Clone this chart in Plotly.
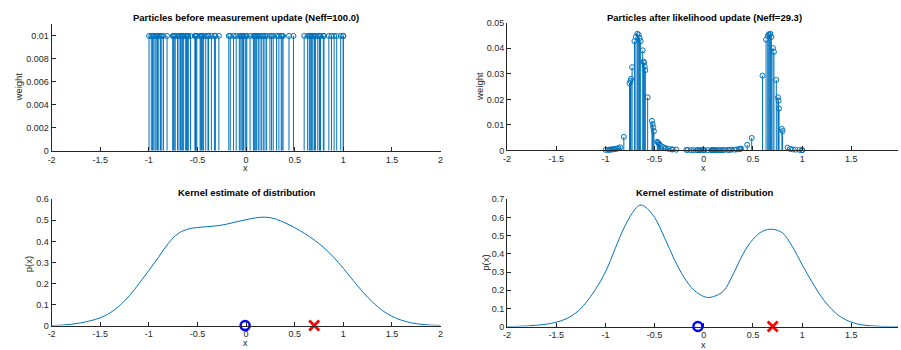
import plotly.graph_objects as go

# Particle positions (shared by both stem plots)
particle_x = [
    -0.998, -0.975, -0.962, -0.949, -0.936, -0.925, -0.911, -0.898, -0.880, -0.867,
    -0.850, -0.813, -0.755, -0.745, -0.740, -0.729, -0.705, -0.690, -0.675, -0.662,
    -0.653, -0.642, -0.621, -0.612, -0.607, -0.600, -0.595, -0.571, -0.527, -0.520,
    -0.514, -0.507, -0.473, -0.466, -0.458, -0.450, -0.437, -0.415, -0.392, -0.386,
    -0.357, -0.326, -0.316, -0.280, -0.178, -0.163, -0.129, -0.102, -0.070, -0.061,
    -0.044, -0.035, -0.027, -0.010, 0.000, 0.007, 0.041, 0.075, 0.084, 0.092,
    0.101, 0.109, 0.126, 0.143, 0.160, 0.177, 0.194, 0.211, 0.245, 0.262,
    0.279, 0.313, 0.337, 0.361, 0.370, 0.380, 0.441, 0.487, 0.597, 0.633,
    0.650, 0.660, 0.670, 0.677, 0.687, 0.703, 0.713, 0.737, 0.754, 0.760,
    0.765, 0.794, 0.801, 0.851, 0.878, 0.905, 0.932, 0.973, 1.000, 0.999,
]

# Uniform prior weights
prior_w = [0.01] * len(particle_x)

# Weights after the likelihood update
posterior_w = [
    0.0002, 0.0002, 0.0003, 0.0003, 0.0004, 0.0004, 0.0005, 0.0006, 0.0007, 0.0009,
    0.0012, 0.0053, 0.0263, 0.0272, 0.0280, 0.0326, 0.0428, 0.0445, 0.0457, 0.0453,
    0.0440, 0.0428, 0.0392, 0.0348, 0.0344, 0.0329, 0.0314, 0.0208, 0.0116, 0.0103,
    0.0090, 0.0075, 0.0034, 0.0031, 0.0027, 0.0023, 0.0018, 0.0013, 0.0009, 0.0008,
    0.0006, 0.0004, 0.0004, 0.0003, 0.0002, 0.0002, 0.0001, 0.0001, 0.0001, 0.0001,
    0.0001, 0.0001, 0.0001, 0.0001, 0.0001, 0.0001, 0.0001, 0.0001, 0.0001, 0.0001,
    0.0001, 0.0001, 0.0001, 0.0001, 0.0001, 0.0001, 0.0001, 0.0002, 0.0002, 0.0002,
    0.0003, 0.0003, 0.0004, 0.0005, 0.0006, 0.0007, 0.0022, 0.0049, 0.0293, 0.0434,
    0.0449, 0.0455, 0.0453, 0.0457, 0.0444, 0.0401, 0.0386, 0.0276, 0.0208, 0.0195,
    0.0164, 0.0084, 0.0076, 0.0011, 0.0006, 0.0004, 0.0003, 0.0002, 0.0001, 0.0001,
]

# Kernel density estimates
kde_prior_x = [
    -2.0, -1.9, -1.8, -1.7, -1.6, -1.5, -1.4, -1.3, -1.2, -1.1, -1.0, -0.9, -0.8, -0.7,
    -0.6, -0.5, -0.4, -0.3, -0.2, -0.1, 0.0, 0.1, 0.2, 0.3, 0.4, 0.5, 0.6, 0.7, 0.8,
    0.9, 1.0, 1.1, 1.2, 1.3, 1.4, 1.5, 1.6, 1.7, 1.8, 1.9, 2.0,
]
kde_prior_p = [
    0.000, 0.002, 0.006, 0.013, 0.023, 0.037, 0.060, 0.095, 0.142, 0.200, 0.262, 0.325,
    0.390, 0.437, 0.458, 0.466, 0.470, 0.474, 0.482, 0.493, 0.503, 0.512, 0.515, 0.507,
    0.488, 0.465, 0.438, 0.407, 0.370, 0.325, 0.272, 0.215, 0.160, 0.112, 0.072, 0.044,
    0.025, 0.013, 0.006, 0.002, 0.001,
]
kde_post_x = [
    -2.0, -1.9, -1.8, -1.7, -1.6, -1.5, -1.4, -1.3, -1.2, -1.1, -1.0, -0.9, -0.8, -0.7,
    -0.65, -0.6, -0.5, -0.4, -0.3, -0.2, -0.1, 0.0, 0.05, 0.1, 0.2, 0.3, 0.4, 0.5, 0.6,
    0.7, 0.8, 0.9, 1.0, 1.1, 1.2, 1.3, 1.4, 1.5, 1.6, 1.7, 1.8, 1.9, 2.0,
]
kde_post_p = [
    0.000, 0.001, 0.003, 0.007, 0.013, 0.024, 0.042, 0.075, 0.130, 0.205, 0.300, 0.430,
    0.555, 0.645, 0.668, 0.660, 0.600, 0.490, 0.370, 0.270, 0.200, 0.165, 0.160, 0.165,
    0.195, 0.290, 0.400, 0.480, 0.525, 0.535, 0.515, 0.440, 0.340, 0.245, 0.160, 0.095,
    0.050, 0.024, 0.010, 0.004, 0.001, 0.000, 0.000,
]

# Estimated mean and true state
est_prior = -0.01
est_post = -0.06
true_x = 0.70

# Tick labels
x_ticks = [-2, -1.5, -1, -0.5, 0, 0.5, 1, 1.5, 2]
x_ticktext = ["-2", "-1.5", "-1", "-0.5", "0", "0.5", "1", "1.5", "2"]
w1_ticks = [0, 0.002, 0.004, 0.006, 0.008, 0.01]
w1_ticktext = ["0", "0.002", "0.004", "0.006", "0.008", "0.01"]
w2_ticks = [0, 0.01, 0.02, 0.03, 0.04, 0.05]
w2_ticktext = ["0", "0.01", "0.02", "0.03", "0.04", "0.05"]
p1_ticks = [0, 0.1, 0.2, 0.3, 0.4, 0.5, 0.6]
p1_ticktext = ["0", "0.1", "0.2", "0.3", "0.4", "0.5", "0.6"]
p2_ticks = [0, 0.1, 0.2, 0.3, 0.4, 0.5, 0.6, 0.7]
p2_ticktext = ["0", "0.1", "0.2", "0.3", "0.4", "0.5", "0.6", "0.7"]

W, H = 901, 350
BLUE = "#0072BD"
AX = "#262626"
FONT = "Liberation Sans, Arial, sans-serif"


def px(v):
    return v / W


def py(v):
    return 1 - v / H


def stem(xs, ws, xa, ya):
    return go.Scatter(
        x=xs, y=ws, mode="markers", xaxis=xa, yaxis=ya, cliponaxis=False,
        marker=dict(symbol="circle-open", size=5, color=BLUE, line=dict(width=1, color=BLUE)),
        error_y=dict(type="data", symmetric=False, array=[0] * len(ws), arrayminus=ws,
                     width=0, thickness=1, color=BLUE),
        showlegend=False, hoverinfo="skip",
    )


fig = go.Figure()
fig.add_trace(stem(particle_x, prior_w, "x", "y"))
fig.add_trace(stem(particle_x, posterior_w, "x2", "y2"))
fig.add_trace(go.Scatter(x=kde_prior_x, y=kde_prior_p, mode="lines", xaxis="x3", yaxis="y3",
                         line=dict(color=BLUE, width=1, shape="spline", smoothing=1.0),
                         showlegend=False, hoverinfo="skip"))
fig.add_trace(go.Scatter(x=kde_post_x, y=kde_post_p, mode="lines", xaxis="x4", yaxis="y4",
                         line=dict(color=BLUE, width=1, shape="spline", smoothing=1.0),
                         showlegend=False, hoverinfo="skip"))

for xa, ya, est in (("x3", "y3", est_prior), ("x4", "y4", est_post)):
    fig.add_trace(go.Scatter(x=[est], y=[0], mode="markers", xaxis=xa, yaxis=ya, cliponaxis=False,
                             marker=dict(symbol="circle-open", size=9, color="#0000FF",
                                         line=dict(width=2.5, color="#0000FF")),
                             showlegend=False, hoverinfo="skip"))
    fig.add_trace(go.Scatter(x=[true_x], y=[0], mode="markers", xaxis=xa, yaxis=ya, cliponaxis=False,
                             marker=dict(symbol="x-thin", size=10, color="#FF0000",
                                         line=dict(width=2.8, color="#FF0000")),
                             showlegend=False, hoverinfo="skip"))


def xaxis(domain, rng, anchor):
    return dict(domain=domain, range=rng, anchor=anchor, tickvals=x_ticks, ticktext=x_ticktext,
                showline=True, linecolor=AX, linewidth=1, ticks="inside", ticklen=4,
                tickcolor=AX, tickfont=dict(size=9, color=AX, family=FONT),
                showgrid=False, zeroline=False, fixedrange=True)


def yaxis(domain, rng, anchor, tv, tt):
    return dict(domain=domain, range=rng, anchor=anchor, tickvals=tv, ticktext=tt,
                showline=True, linecolor=AX, linewidth=1, ticks="inside", ticklen=4,
                tickcolor=AX, tickfont=dict(size=9, color=AX, family=FONT),
                showgrid=False, zeroline=False, fixedrange=True)


right_max = -2 + (W - 507) / 99.14

fig.update_layout(
    width=W, height=H, margin=dict(l=0, r=0, t=0, b=0),
    paper_bgcolor="white", plot_bgcolor="white",
    font=dict(family=FONT, color=AX),
    xaxis=xaxis([px(48), px(440)], [-2, 2], "y"),
    yaxis=yaxis([py(150), py(20)], [0, 0.011], "x", w1_ticks, w1_ticktext),
    xaxis2=xaxis([px(507), 1.0], [-2, right_max], "y2"),
    yaxis2=yaxis([py(149.7), py(18.3)], [0, 0.05], "x2", w2_ticks, w2_ticktext),
    xaxis3=xaxis([px(48), px(440)], [-2, 2], "y3"),
    yaxis3=yaxis([py(330), py(200)], [0, 0.6], "x3", p1_ticks, p1_ticktext),
    xaxis4=xaxis([px(507), 1.0], [-2, right_max], "y4"),
    yaxis4=yaxis([py(331), py(200)], [0, 0.7], "x4", p2_ticks, p2_ticktext),
)

titles = [
    (244, 13, "Particles before measurement update (Neff=100.0)"),
    (705.5, 13, "Particles after likelihood update (Neff=29.3)"),
    (244, 193, "Kernel estimate of distribution"),
    (705.5, 193, "Kernel estimate of distribution"),
]
for tx, ty, txt in titles:
    fig.add_annotation(x=px(tx), y=py(ty), xref="paper", yref="paper", text="<b>%s</b>" % txt,
                       showarrow=False, xanchor="center", yanchor="middle",
                       font=dict(size=9.5, color="black", family=FONT))

ylabels = [(15, 84, "weight"), (479, 84, "weight"), (25, 267, "p(x)"), (485, 265, "p(x)")]
for tx, ty, txt in ylabels:
    fig.add_annotation(x=px(tx), y=py(ty), xref="paper", yref="paper", text=txt, textangle=-90,
                       showarrow=False, xanchor="center", yanchor="middle",
                       font=dict(size=9.5, color=AX, family=FONT))

xlabels = [(243, 167.5), (705, 167.5), (243, 347.5), (705, 349.5)]
for tx, ty in xlabels:
    fig.add_annotation(x=px(tx), y=py(ty), xref="paper", yref="paper", text="x",
                       showarrow=False, xanchor="center", yanchor="middle",
                       font=dict(size=9, color=AX, family=FONT))

fig.write_html("out.html")
